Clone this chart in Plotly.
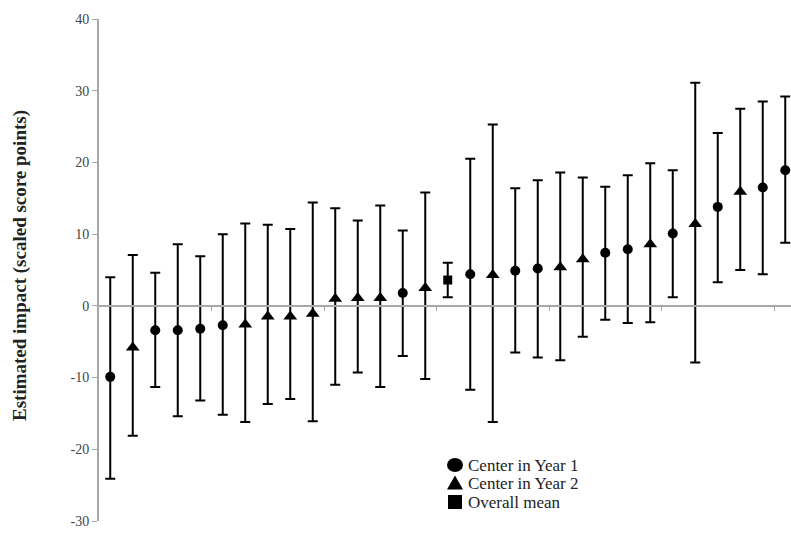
import plotly.graph_objects as go

# Centers ordered by estimated impact (left to right)
centers = list(range(1, 32))
group = ["Y1", "Y2", "Y1", "Y1", "Y1", "Y1", "Y2", "Y2", "Y2", "Y2",
         "Y2", "Y2", "Y2", "Y1", "Y2", "ALL", "Y1", "Y2", "Y1", "Y1",
         "Y2", "Y2", "Y1", "Y1", "Y2", "Y1", "Y2", "Y1", "Y2", "Y1", "Y1"]
estimate = [-9.9, -5.8, -3.4, -3.4, -3.2, -2.7, -2.6, -1.5, -1.5, -1.1,
            1.0, 1.1, 1.1, 1.8, 2.5, 3.6, 4.4, 4.3, 4.9, 5.2,
            5.4, 6.5, 7.4, 7.9, 8.6, 10.1, 11.4, 13.8, 15.9, 16.5, 18.9]
ci_upper = [4.0, 7.1, 4.6, 8.6, 6.9, 10.0, 11.5, 11.3, 10.7, 14.4,
            13.6, 11.9, 14.0, 10.5, 15.8, 6.0, 20.5, 25.3, 16.4, 17.5,
            18.6, 17.9, 16.6, 18.2, 19.9, 18.9, 31.1, 24.1, 27.5, 28.5, 29.2]
ci_lower = [-24.1, -18.1, -11.3, -15.4, -13.2, -15.2, -16.2, -13.7, -13.0, -16.1,
            -11.0, -9.3, -11.3, -7.0, -10.2, 1.2, -11.7, -16.2, -6.5, -7.2,
            -7.6, -4.3, -1.95, -2.4, -2.3, 1.2, -7.9, 3.3, 5.0, 4.4, 8.8]

y_tick_vals = [40, 30, 20, 10, 0, -10, -20, -30]
y_tick_text = ["40", "30", "20", "10", "0", "-10", "-20", "-30"]
series = [
    ("Y1", "Center in Year 1", "circle", 10),
    ("Y2", "Center in Year 2", "triangle-up", 12),
    ("ALL", "Overall mean", "square", 9),
]

SERIF = "Liberation Serif, Times New Roman, serif"
fig = go.Figure()

for key, name, symbol, size in series:
    idx = [i for i, g in enumerate(group) if g == key]
    xs = [centers[i] for i in idx]
    ys = [estimate[i] for i in idx]
    up = [ci_upper[i] - estimate[i] for i in idx]
    dn = [estimate[i] - ci_lower[i] for i in idx]
    fig.add_trace(go.Scatter(
        x=xs, y=ys, mode="markers", name=name, showlegend=False, cliponaxis=False,
        marker=dict(symbol=symbol, size=size, color="black"),
        error_y=dict(type="data", symmetric=False, array=up, arrayminus=dn,
                     color="black", thickness=2, width=5),
    ))

# Key: glyphs drawn as pixel-sized shapes anchored in paper space, labels as text
W, H = 791, 534
ML, MR, MT, MB = 99, 0, 19, 13
PW, PH = W - ML - MR, H - MT - MB


def px_x(px):
    return (px - ML) / PW


def px_y(py):
    return (H - MB - py) / PH


key_x = 455
key_rows = [465, 483.5, 502]
for (key, name, symbol, size), row in zip(series, key_rows):
    common = dict(xref="paper", yref="paper", xsizemode="pixel", ysizemode="pixel",
                  xanchor=px_x(key_x), yanchor=px_y(row),
                  fillcolor="black", line=dict(width=0))
    if symbol == "circle":
        fig.add_shape(type="circle", x0=-8, x1=8, y0=-7, y1=7, **common)
    elif symbol == "triangle-up":
        fig.add_shape(type="path", path="M -8 -6 L 8 -6 L 0 8 Z", **common)
    else:
        fig.add_shape(type="rect", x0=-7, x1=7, y0=-7, y1=7, **common)
    fig.add_annotation(x=px_x(466), y=px_y(row), xref="paper", yref="paper",
                       xanchor="left", yanchor="middle", showarrow=False,
                       text=name, font=dict(family=SERIF, size=17, color="#222222"))

fig.add_annotation(x=px_x(20), y=px_y(266), xref="paper", yref="paper",
                   xanchor="center", yanchor="middle", showarrow=False, textangle=-90,
                   text="<b>Estimated impact (scaled score points)</b>",
                   font=dict(family=SERIF, size=19, color="#222222"))

fig.update_layout(
    width=W, height=H,
    margin=dict(l=ML, r=MR, t=MT, b=MB),
    paper_bgcolor="white", plot_bgcolor="white",
    font=dict(family=SERIF, color="#333333"),
    showlegend=False,
    xaxis=dict(range=[0.5, 0.5 + PW / 22.5], anchor="free", position=30 / 70,
               showline=True, linecolor="#a8a8a8", linewidth=2,
               ticks="outside", ticklen=4, tickcolor="#a8a8a8",
               tickvals=[5.5, 10.5, 15.5, 20.5, 25.5, 30.5],
               showticklabels=False, showgrid=False, zeroline=False),
    yaxis=dict(range=[-30, 40], tickvals=y_tick_vals, ticktext=y_tick_text,
               showline=True, linecolor="#a8a8a8", linewidth=2,
               ticks="outside", ticklen=5, tickcolor="#a8a8a8",
               tickfont=dict(family=SERIF, size=14, color="#444444"),
               showgrid=False, zeroline=False),
)

fig.write_html("out.html")
